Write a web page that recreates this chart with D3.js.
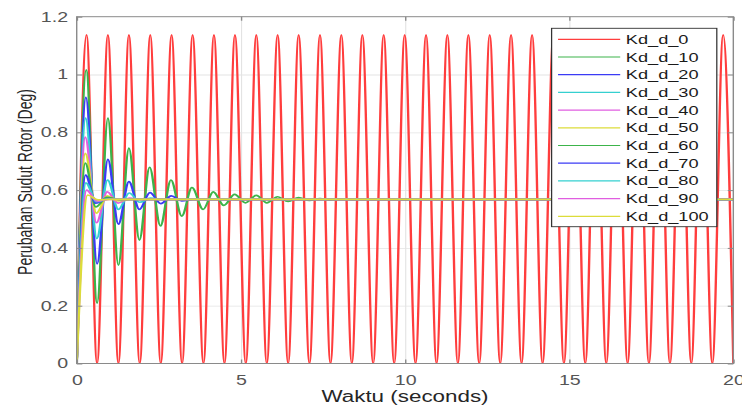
<!DOCTYPE html>
<html>
<head>
<meta charset="utf-8">
<script src="https://cdn.jsdelivr.net/npm/d3@7"></script>
<style>
  body { margin: 0; background: #fff; }
  svg { display: block; font-family: "Liberation Sans", Arial, sans-serif; }
  .grid line { stroke: #e3e3e3; stroke-width: 0.8; }
  .grid path { display: none; }
  .axis path { display: none; }
  .axis line { stroke: #8a8a8a; }
  .axis text { fill: #555; font-size: 14px; }
</style>
</head>
<body>
<svg id="chart" width="742" height="407"></svg>
<script>
// Kd_d_0: undamped oscillation, peaks and troughs
const redPeakT = [0.30, 0.95, 1.59, 2.24, 2.89, 3.53, 4.18, 4.82, 5.47, 6.12, 6.76,
    7.41, 8.06, 8.70, 9.35, 9.99, 10.64, 11.29, 11.93, 12.58, 13.23, 13.87, 14.52,
    15.17, 15.81, 16.46, 17.10, 17.75, 18.40, 19.04, 19.69];
const redTroughT = [0, 0.62, 1.27, 1.92, 2.56, 3.21, 3.86, 4.50, 5.15, 5.79, 6.44,
    7.09, 7.73, 8.38, 9.03, 9.67, 10.32, 10.96, 11.61, 12.26, 12.90, 13.55, 14.19,
    14.84, 15.49, 16.13, 16.78, 17.43, 18.07, 18.72, 19.36, 20.0];
const redPeakV = 1.137;
const redTroughV = 0;

// damped responses: [time, value] at each turning point
const kd10 = [[0, 0], [0.29, 1.016], [0.62, 0.209], [0.95, 0.849], [1.27, 0.340], [1.59, 0.745],
    [1.91, 0.427], [2.22, 0.679], [2.55, 0.476], [2.87, 0.635], [3.20, 0.510], [3.51, 0.609],
    [3.85, 0.533], [4.16, 0.594], [4.48, 0.547], [4.81, 0.585], [5.14, 0.556], [5.47, 0.582],
    [5.79, 0.556], [6.12, 0.577], [6.44, 0.561], [6.76, 0.574], [7.09, 0.564], [7.41, 0.571],
    [7.73, 0.566], [8.06, 0.569], [8.40, 0.568], [20, 0.568]];
const kd20 = [[0, 0], [0.28, 0.921], [0.62, 0.345], [0.95, 0.706], [1.27, 0.482], [1.59, 0.629],
    [1.91, 0.533], [2.23, 0.591], [2.56, 0.553], [2.88, 0.580], [3.20, 0.563], [3.55, 0.568], [20, 0.568]];
const kd30 = [[0, 0], [0.27, 0.849], [0.61, 0.432], [0.94, 0.635], [1.27, 0.533], [1.60, 0.590],
    [1.92, 0.558], [2.25, 0.572], [2.60, 0.568], [20, 0.568]];
const kd40 = [[0, 0], [0.26, 0.783], [0.60, 0.487], [0.93, 0.594], [1.26, 0.555], [1.60, 0.572],
    [2.00, 0.568], [20, 0.568]];
const kd50 = [[0, 0], [0.26, 0.727], [0.60, 0.520], [0.93, 0.580], [1.26, 0.563], [1.70, 0.568], [20, 0.568]];
const kd60 = [[0, 0], [0.26, 0.693], [0.58, 0.542], [0.92, 0.575], [1.30, 0.568], [20, 0.568]];
const kd70 = [[0, 0], [0.27, 0.652], [0.58, 0.555], [0.92, 0.571], [1.30, 0.568], [20, 0.568]];
const kd80 = [[0, 0], [0.28, 0.625], [0.60, 0.560], [0.95, 0.569], [20, 0.568]];
const kd90 = [[0, 0], [0.30, 0.600], [0.62, 0.562], [1.00, 0.568], [20, 0.568]];
const kd100 = [[0, 0], [0.33, 0.583], [0.65, 0.566], [1.00, 0.568], [20, 0.568]];

const seriesNames = ["Kd_d_0", "Kd_d_10", "Kd_d_20", "Kd_d_30", "Kd_d_40", "Kd_d_50",
    "Kd_d_60", "Kd_d_70", "Kd_d_80", "Kd_d_90", "Kd_d_100"];
const seriesColors = ["#ff3d3d", "#3cb44a", "#3b3bf5", "#35d0d0", "#e05ee0", "#dcdc3a",
    "#3cb44a", "#3b3bf5", "#35d0d0", "#e05ee0", "#dcdc3a"];
const xTicks = [0, 5, 10, 15, 20];
const yTicks = [0, 0.2, 0.4, 0.6, 0.8, 1, 1.2];

// the reference is stretched sideways, so draw in a narrower frame and widen it
const stretch = 1.4;
const svg = d3.select("#chart");
const root = svg.append("g").attr("transform", `scale(${stretch},1)`);

const plotLeft = 54.8, plotRight = 523.8, plotTop = 16.7, plotBottom = 363.5;
const x = d3.scaleLinear().domain([0, 20]).range([plotLeft, plotRight]);
const y = d3.scaleLinear().domain([0, 1.2]).range([plotBottom, plotTop]);

// grid
root.append("g")
    .attr("class", "grid")
    .attr("transform", `translate(0,${plotBottom})`)
    .call(d3.axisBottom(x).tickValues(xTicks.slice(1, -1)).tickSize(-(plotBottom - plotTop)).tickFormat(""));
root.append("g")
    .attr("class", "grid")
    .attr("transform", `translate(${plotLeft},0)`)
    .call(d3.axisLeft(y).tickValues(yTicks.slice(1, -1)).tickSize(-(plotRight - plotLeft)).tickFormat(""));

// build the red point list from its peaks and troughs
let redPts = [];
redTroughT.forEach(t => redPts.push([t, redTroughV]));
redPeakT.forEach(t => redPts.push([t, redPeakV]));
redPts.sort((a, b) => a[0] - b[0]);

const allSeries = [redPts, kd10, kd20, kd30, kd40, kd50, kd60, kd70, kd80, kd90, kd100];

const line = d3.line()
    .x(d => x(d[0]))
    .y(d => y(d[1]))
    .curve(d3.curveMonotoneX);

root.append("defs").append("clipPath")
    .attr("id", "plotClip")
    .append("rect")
    .attr("x", plotLeft).attr("y", plotTop)
    .attr("width", plotRight - plotLeft).attr("height", plotBottom - plotTop);

root.append("g")
    .attr("clip-path", "url(#plotClip)")
    .selectAll("path")
    .data(allSeries)
    .enter()
    .append("path")
    .attr("d", line)
    .attr("fill", "none")
    .attr("stroke", (d, i) => seriesColors[i])
    .attr("stroke-width", 1.7)
    .attr("stroke-linejoin", "round");

// axes (ticks point inward, matlab style)
root.append("g")
    .attr("class", "axis")
    .attr("transform", `translate(0,${plotBottom})`)
    .call(d3.axisBottom(x).tickValues(xTicks).tickSize(-4).tickPadding(11.5).tickFormat(d3.format("d")));
root.append("g")
    .attr("class", "axis")
    .attr("transform", `translate(0,${plotTop})`)
    .call(d3.axisTop(x).tickValues(xTicks).tickSize(-4).tickFormat(""));
root.append("g")
    .attr("class", "axis")
    .attr("transform", `translate(${plotLeft},0)`)
    .call(d3.axisLeft(y).tickValues(yTicks).tickSize(-4).tickPadding(6.2).tickFormat(d => d3.format("~g")(d)));
root.append("g")
    .attr("class", "axis")
    .attr("transform", `translate(${plotRight},0)`)
    .call(d3.axisRight(y).tickValues(yTicks).tickSize(-4).tickFormat(""));

// box
root.append("rect")
    .attr("x", plotLeft).attr("y", plotTop)
    .attr("width", plotRight - plotLeft).attr("height", plotBottom - plotTop)
    .attr("fill", "none")
    .attr("stroke", "#8a8a8a")
    .attr("stroke-width", 1);

// axis titles
root.append("text")
    .attr("x", (plotLeft + plotRight) / 2)
    .attr("y", 402)
    .attr("text-anchor", "middle")
    .attr("fill", "#262626")
    .style("font-size", "16px")
    .text("Waktu (seconds)");

root.append("text")
    .attr("transform", `translate(23,182) rotate(-90)`)
    .attr("text-anchor", "middle")
    .attr("fill", "#262626")
    .style("font-size", "14px")
    .text("Perubahan Sudut Rotor (Deg)");

// legend
const legend = root.append("g").attr("class", "legend");
legend.append("rect")
    .attr("x", 394).attr("y", 28.3)
    .attr("width", 118).attr("height", 198.4)
    .attr("fill", "#fff")
    .attr("stroke", "#333")
    .attr("stroke-width", 0.9);

const item = legend.selectAll("g.item")
    .data(seriesNames)
    .enter()
    .append("g")
    .attr("class", "item")
    .attr("transform", (d, i) => `translate(0,${39.3 + i * 17.7})`);

item.append("line")
    .attr("x1", 398.6).attr("x2", 443)
    .attr("stroke", (d, i) => seriesColors[i])
    .attr("stroke-width", 1.2);

item.append("text")
    .attr("x", 447)
    .attr("dy", "0.35em")
    .attr("fill", "#1a1a1a")
    .style("font-size", "13px")
    .text(d => d);
</script>
</body>
</html>
